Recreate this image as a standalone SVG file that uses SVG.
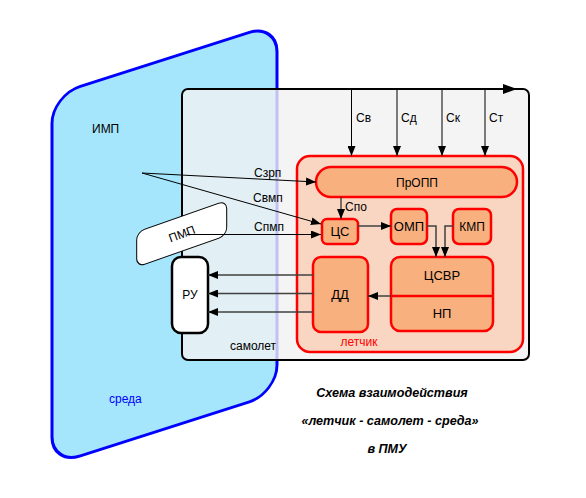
<svg xmlns="http://www.w3.org/2000/svg" width="586" height="498" viewBox="0 0 586 498">
<style>
text{font-family:"Liberation Sans",Arial,sans-serif;font-size:12px;fill:#000}
.c{text-anchor:middle}
.b13{font-size:13px}
.box{fill:#f8b07f;stroke:#ff0000;stroke-width:2.5}
.ln{fill:none;stroke:#000;stroke-width:1}
.dl{fill:none;stroke:#404040;stroke-width:1.5}
.title{font-weight:bold;font-style:italic;text-anchor:middle;font-size:12.6px}
</style>
<defs>
<marker id="a" markerUnits="userSpaceOnUse" markerWidth="10" markerHeight="8" refX="10" refY="4" orient="auto"><path d="M0,0 L10,4 L0,8 z" fill="#000"/></marker>
<marker id="big" markerUnits="userSpaceOnUse" markerWidth="14" markerHeight="10" refX="14" refY="5" orient="auto"><path d="M0,0 L14,5 L0,10 z" fill="#000"/></marker>
</defs>

<g id="sreda">
<g transform="translate(52,95.5) skewY(-17.74)"><rect x="0" y="0" width="225" height="369.5" rx="28" ry="28" fill="#a6e6fc" stroke="#0000ff" stroke-width="3"/></g>
<text x="92" y="133">ИМП</text>
<text x="109" y="403" style="fill:#0000ff">среда</text>
</g>

<g id="samolet">
<rect x="182" y="89" width="347" height="271" rx="6" fill="#f1f1f1" fill-opacity="0.8" stroke="#000" stroke-width="2"/>
<text x="230" y="350">самолет</text>
</g>

<g id="pmp">
<g transform="translate(136.7,232) skewY(-19.3)"><rect x="0" y="0" width="90" height="35" rx="8" fill="#fff" stroke="#000" stroke-width="1"/></g>
<text x="182" y="238" class="c" transform="rotate(-20 182 234)">ПМП</text>
</g>

<g id="ru">
<rect x="172" y="257" width="36" height="76" rx="9" fill="#fff" stroke="#000" stroke-width="2.5"/>
<text x="190" y="299" class="c">РУ</text>
</g>

<g id="letchik">
<rect x="297" y="156" width="226" height="196" rx="13" fill="#f8d6c2" stroke="#ff0000" stroke-width="2.5"/>
<text x="359" y="346" class="c" style="fill:#ff0000">летчик</text>
</g>

<g id="propp">
<rect class="box" x="316" y="167" width="201" height="30" rx="15"/>
<text x="417" y="187" class="c">ПрОПП</text>
</g>

<g id="cs">
<rect class="box" x="322" y="219" width="36" height="25" rx="5"/>
<text x="340" y="236" class="c b13">ЦС</text>
</g>

<g id="omp">
<rect class="box" x="391" y="209" width="36" height="35" rx="6"/>
<text x="409" y="231" class="c b13">ОМП</text>
</g>

<g id="kmp">
<rect class="box" x="453" y="209" width="38" height="35" rx="6"/>
<text x="472" y="231" class="c">КМП</text>
</g>

<g id="csvr">
<rect class="box" x="391" y="257" width="102" height="74" rx="9"/>
<line x1="391" y1="296" x2="493" y2="296" stroke="#ff0000" stroke-width="2.5"/>
<text x="442" y="280" class="c b13">ЦСВР</text>
<text x="442" y="318" class="c b13">НП</text>
</g>

<g id="dd">
<rect class="box" x="313" y="257" width="55" height="75" rx="8"/>
<text x="340" y="299" class="c b13">ДД</text>
</g>

<g id="connectors">
<line x1="351" y1="89" x2="517" y2="89" stroke="#000" stroke-width="2" marker-end="url(#big)"/>
<line class="ln" x1="351.5" y1="89" x2="351.5" y2="156" marker-end="url(#a)"/>
<line class="ln" x1="397" y1="89" x2="397" y2="156" marker-end="url(#a)"/>
<line class="ln" x1="442" y1="89" x2="442" y2="156" marker-end="url(#a)"/>
<line class="ln" x1="485" y1="89" x2="485" y2="156" marker-end="url(#a)"/>
<text x="356" y="122">Св</text>
<text x="401" y="122">Сд</text>
<text x="446" y="122">Ск</text>
<text x="489" y="122">Ст</text>

<line class="ln" x1="142" y1="173" x2="316" y2="182" marker-end="url(#a)"/>
<line class="ln" x1="142" y1="173" x2="321" y2="224" marker-end="url(#a)"/>
<line class="ln" x1="187" y1="234.5" x2="321" y2="234.5" marker-end="url(#a)"/>
<text x="254" y="177">Сзрп</text>
<text x="253" y="202">Свмп</text>
<text x="254" y="231">Спмп</text>

<line class="ln" x1="341" y1="197" x2="341" y2="219" marker-end="url(#a)"/>
<text x="345" y="211">Спо</text>

<line class="dl" x1="358" y1="226" x2="391" y2="226" marker-end="url(#a)"/>
<polyline class="dl" points="427,226 436,226 436,257" marker-end="url(#a)"/>
<polyline class="dl" points="453,226 445,226 445,257" marker-end="url(#a)"/>
<line class="dl" x1="391" y1="296" x2="368" y2="296" marker-end="url(#a)"/>
<line class="dl" x1="313" y1="275" x2="208" y2="275" marker-end="url(#a)"/>
<line class="dl" x1="313" y1="293.5" x2="208" y2="293.5" marker-end="url(#a)"/>
<line class="dl" x1="313" y1="312" x2="208" y2="312" marker-end="url(#a)"/>
</g>

<g id="caption">
<text x="392" y="397" class="title">Схема взаимодействия</text>
<text x="390" y="425" class="title">«летчик - самолет - среда»</text>
<text x="387" y="453" class="title">в ПМУ</text>
</g>
</svg>
